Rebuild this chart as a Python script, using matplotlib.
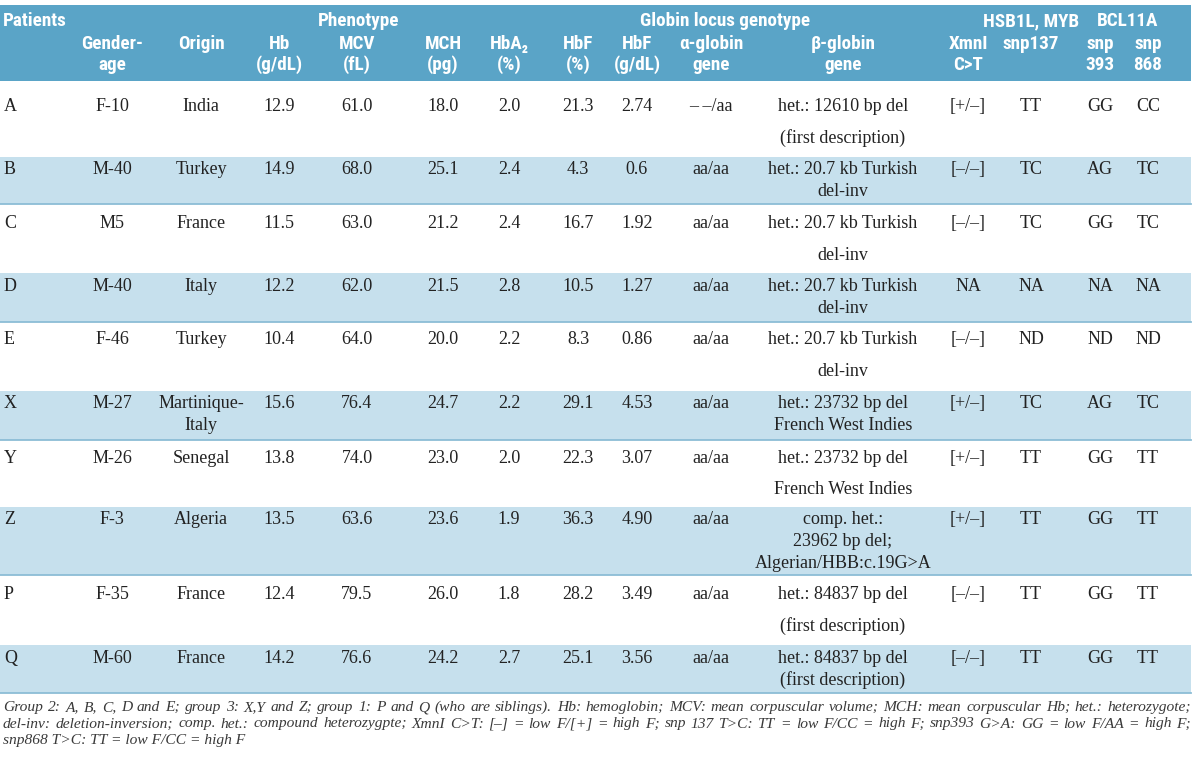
import matplotlib
matplotlib.use("Agg")
import matplotlib.pyplot as plt
from matplotlib import font_manager

# ---- data ----
patients = ["A", "B", "C", "D", "E", "X", "Y", "Z", "P", "Q"]
gender_age = ["F-10", "M-40", "M5", "M-40", "F-46", "M-27", "M-26", "F-3", "F-35", "M-60"]
origin = ["India", "Turkey", "France", "Italy", "Turkey", "Martinique-\nItaly",
          "Senegal", "Algeria", "France", "France"]
hb = [12.9, 14.9, 11.5, 12.2, 10.4, 15.6, 13.8, 13.5, 12.4, 14.2]
mcv = [61.0, 68.0, 63.0, 62.0, 64.0, 76.4, 74.0, 63.6, 79.5, 76.6]
mch = [18.0, 25.1, 21.2, 21.5, 20.0, 24.7, 23.0, 23.6, 26.0, 24.2]
hba2 = [2.0, 2.4, 2.4, 2.8, 2.2, 2.2, 2.0, 1.9, 1.8, 2.7]
hbf_pct = [21.3, 4.3, 16.7, 10.5, 8.3, 29.1, 22.3, 36.3, 28.2, 25.1]
hbf_gdl = ["2.74", "0.6", "1.92", "1.27", "0.86", "4.53", "3.07", "4.90", "3.49", "3.56"]
alpha_gene = ["\u2013 \u2013/aa"] + ["aa/aa"] * 9
beta_gene = ["het.: 12610 bp del\n(first description)",
             "het.: 20.7 kb Turkish\ndel-inv",
             "het.: 20.7 kb Turkish\ndel-inv",
             "het.: 20.7 kb Turkish\ndel-inv",
             "het.: 20.7 kb Turkish\ndel-inv",
             "het.: 23732 bp del\nFrench West Indies",
             "het.: 23732 bp del\nFrench West Indies",
             "comp. het.:\n23962 bp del;\nAlgerian/HBB:c.19G>A",
             "het.: 84837 bp del\n(first description)",
             "het.: 84837 bp del\n(first description)"]
xmn = ["[+/\u2013]", "[\u2013/\u2013]", "[\u2013/\u2013]", "NA", "[\u2013/\u2013]",
       "[+/\u2013]", "[+/\u2013]", "[+/\u2013]", "[\u2013/\u2013]", "[\u2013/\u2013]"]
snp137 = ["TT", "TC", "TC", "NA", "ND", "TC", "TT", "TT", "TT", "TT"]
snp393 = ["GG", "AG", "GG", "NA", "ND", "AG", "GG", "GG", "GG", "GG"]
snp868 = ["CC", "TC", "TC", "NA", "ND", "TC", "TT", "TT", "TT", "TT"]

group_heads = ["Patients", "Phenotype", "Globin locus genotype", "HSB1L, MYB", "BCL11A"]
col_heads = ["", "Gender-\nage", "Origin", "Hb\n(g/dL)", "MCV\n(fL)", "MCH\n(pg)",
             "HbA\u2082\n(%)", "HbF\n(%)", "HbF\n(g/dL)", "\u03b1-globin\ngene",
             "\u03b2-globin\ngene", "XmnI\nC>T", "snp137", "snp\n393", "snp\n868"]

footnote = [
    "Group 2: A, B, C, D and E; group 3: X,Y and Z; group 1: P and Q (who are siblings). Hb: hemoglobin; "
    "MCV: mean corpuscular volume; MCH: mean corpuscular Hb; het.: heterozygote;",
    "del-inv: deletion-inversion; comp. het.: compound heterozygpte; XmnI C>T: [\u2013] = low F/[+] = high F; "
    "snp 137 T>C: TT = low F/CC = high F; snp393 G>A: GG = low F/AA = high F;",
    "snp868 T>C: TT = low F/CC = high F",
]

# ---- layout ----
names = {f.name for f in font_manager.fontManager.ttflist}
def pick(*cands):
    return next((c for c in cands if c in names), "DejaVu Sans")
head_font = [pick("Liberation Sans Narrow", "Roboto Condensed", "Roboto", "Liberation Sans"), "DejaVu Sans"]
body_font = [pick("Liberation Serif", "DejaVu Serif"), "DejaVu Serif"]

HEAD_BG = "#5aa4c7"
BAND = "#c6e0ed"
RULE = "#8cbdd6"
TXT = "#222222"

table_right = 1191
col_x = [4, 112, 201, 279, 357, 443, 509, 578, 637, 711, 843, 968, 1031, 1100, 1148]
group_x = [3, 359, 725, 1031, 1128]
row_h = [76, 47, 69, 49, 69, 49, 67, 68, 70, 48]
first_off = [24, 11, 18, 12, 16, 11, 17, 11, 18, 12]

fig = plt.figure(figsize=(12, 7.6), dpi=100)
ax = fig.add_axes([0, 0, 1, 1])
ax.set_xlim(0, 1200)
ax.set_ylim(760, 0)
ax.axis("off")
renderer = fig.canvas.get_renderer()


def fit_size(text, target, **kw):
    # font size that makes `text` about `target` pixels wide
    t = ax.text(0, 0, text, fontsize=10, **kw)
    w = t.get_window_extent(renderer).width
    t.remove()
    return 10 * target / w


# header band
ax.axhspan(5, 81, xmin=0, xmax=table_right / 1200, color=HEAD_BG, lw=0)
hsize = min(14, fit_size("Globin locus genotype", 170, fontweight="bold",
                         family=head_font, fontstretch="condensed"))
hkw = dict(color="white", fontsize=hsize, fontweight="bold", family=head_font,
           fontstretch="condensed")
for i, (t, x) in enumerate(zip(group_heads, group_x)):
    ax.text(x, 26, t, ha="left" if i == 0 else "center", va="baseline", **hkw)
for x, t in zip(col_x, col_heads):
    for k, line in enumerate(t.split("\n")):
        ax.text(x, 49 + 21 * k, line, ha="center", va="baseline", **hkw)

# body rows
columns = [patients, gender_age, origin, hb, mcv, mch, hba2, hbf_pct, hbf_gdl,
           alpha_gene, beta_gene, xmn, snp137, snp393, snp868]
bkw = dict(color=TXT, fontsize=13, family=body_font)
top = 81
for r in range(len(patients)):
    shaded = r % 2 == 1
    bottom = top + row_h[r]
    if shaded:
        ax.axhspan(top, bottom, xmin=0, xmax=table_right / 1200, color=BAND, lw=0)
        ax.plot([0, table_right], [bottom, bottom], color=RULE, lw=1.3)
    step = 22 if shaded else 31.5
    for c, (x, col) in enumerate(zip(col_x, columns)):
        val = col[r]
        txt = f"{val:.1f}" if isinstance(val, float) else val
        for k, line in enumerate(txt.split("\n")):
            ax.text(x, top + first_off[r] + 6 + step * k, line,
                    ha="left" if c == 0 else "center", va="baseline", **bkw)
    top = bottom

# footnote, justified
fbase = dict(style="italic", family=body_font)
fsize = fit_size(footnote[0], 1160, **fbase)
fkw = dict(color="#3a3a3a", fontsize=fsize, va="baseline", **fbase)
for i, line in enumerate(footnote):
    y = 711 + 16.5 * i
    if i == len(footnote) - 1:
        ax.text(3, y, line, ha="left", **fkw)
        continue
    words = line.split(" ")
    arts = [ax.text(0, y, w, ha="left", **fkw) for w in words]
    widths = [a.get_window_extent(renderer).width for a in arts]
    gap = (table_right - 3 - sum(widths)) / (len(words) - 1)
    x = 3
    for a, w in zip(arts, widths):
        a.set_x(x)
        x += w + gap

fig.savefig("out.png", dpi=100)
